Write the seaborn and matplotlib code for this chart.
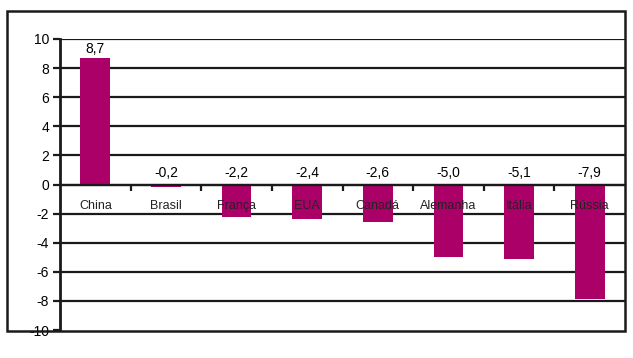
import matplotlib
matplotlib.use("Agg")
import matplotlib.pyplot as plt
import matplotlib.patches as mpatches
import seaborn as sns
import pandas as pd

categories = ["China", "Brasil", "França", "EUA", "Canadá", "Alemanha", "Itália", "Rússia"]
values = [8.7, -0.2, -2.2, -2.4, -2.6, -5.0, -5.1, -7.9]
yticks = [-10, -8, -6, -4, -2, 0, 2, 4, 6, 8, 10]

sns.set_theme(style="white")
plt.rcParams["font.family"] = ["Liberation Sans", "DejaVu Sans"]

df = pd.DataFrame({"pais": categories, "valor": values})

fig = plt.figure(figsize=(6.33, 3.58), dpi=100)
ax = fig.add_axes([60/633, 1-330/358, (625-60)/633, (330-39)/358])

sns.barplot(data=df, x="pais", y="valor", color="#AA0068", width=0.42,
            saturation=1, ax=ax, zorder=3, linewidth=0, edgecolor="none")

ax.set_ylim(-10, 10)
ax.set_xlim(-0.5, len(categories)-0.5)
ax.set_yticks(yticks)
ax.set_yticklabels([str(t) for t in yticks], fontsize=10, color="black")
ax.set_xlabel("")
ax.set_ylabel("")
for t in yticks[1:]:
    ax.axhline(t, color="#1a1a1a", lw=1.6, zorder=1)

# zero-axis as bottom spine with boundary ticks
ax.spines["bottom"].set_position(("data", 0))
ax.spines["bottom"].set_color("#1a1a1a")
ax.spines["bottom"].set_linewidth(1.6)
ax.spines["bottom"].set_zorder(4)
ax.set_xticks([i + 0.5 for i in range(len(categories)-1)])
ax.set_xticklabels([])
ax.tick_params(axis="x", direction="out", length=4, width=1.6, color="#1a1a1a", bottom=True)
ax.tick_params(axis="y", direction="out", length=5, width=1.6, color="#1a1a1a", left=True, pad=3)
ax.spines["left"].set_color("#1a1a1a")
ax.spines["left"].set_linewidth(2)
ax.spines["top"].set_visible(False)
ax.spines["right"].set_visible(False)

for i, (c, v) in enumerate(zip(categories, values)):
    ax.text(i, -1.45, c, ha="center", va="center", fontsize=9, color="#222222", zorder=5)
    lab = f"{v:.1f}".replace(".", ",")
    ypos = v + 0.1 if v > 0 else 0.3
    ax.text(i, ypos, lab, ha="center", va="bottom", fontsize=10, color="black", zorder=5)

border = mpatches.Rectangle((7/633, 1-331/358), (625-7)/633, (331-11)/358,
                            transform=fig.transFigure, fill=False,
                            edgecolor="#1a1a1a", lw=1.8)
fig.patches.append(border)

fig.savefig("out.png", dpi=100)
